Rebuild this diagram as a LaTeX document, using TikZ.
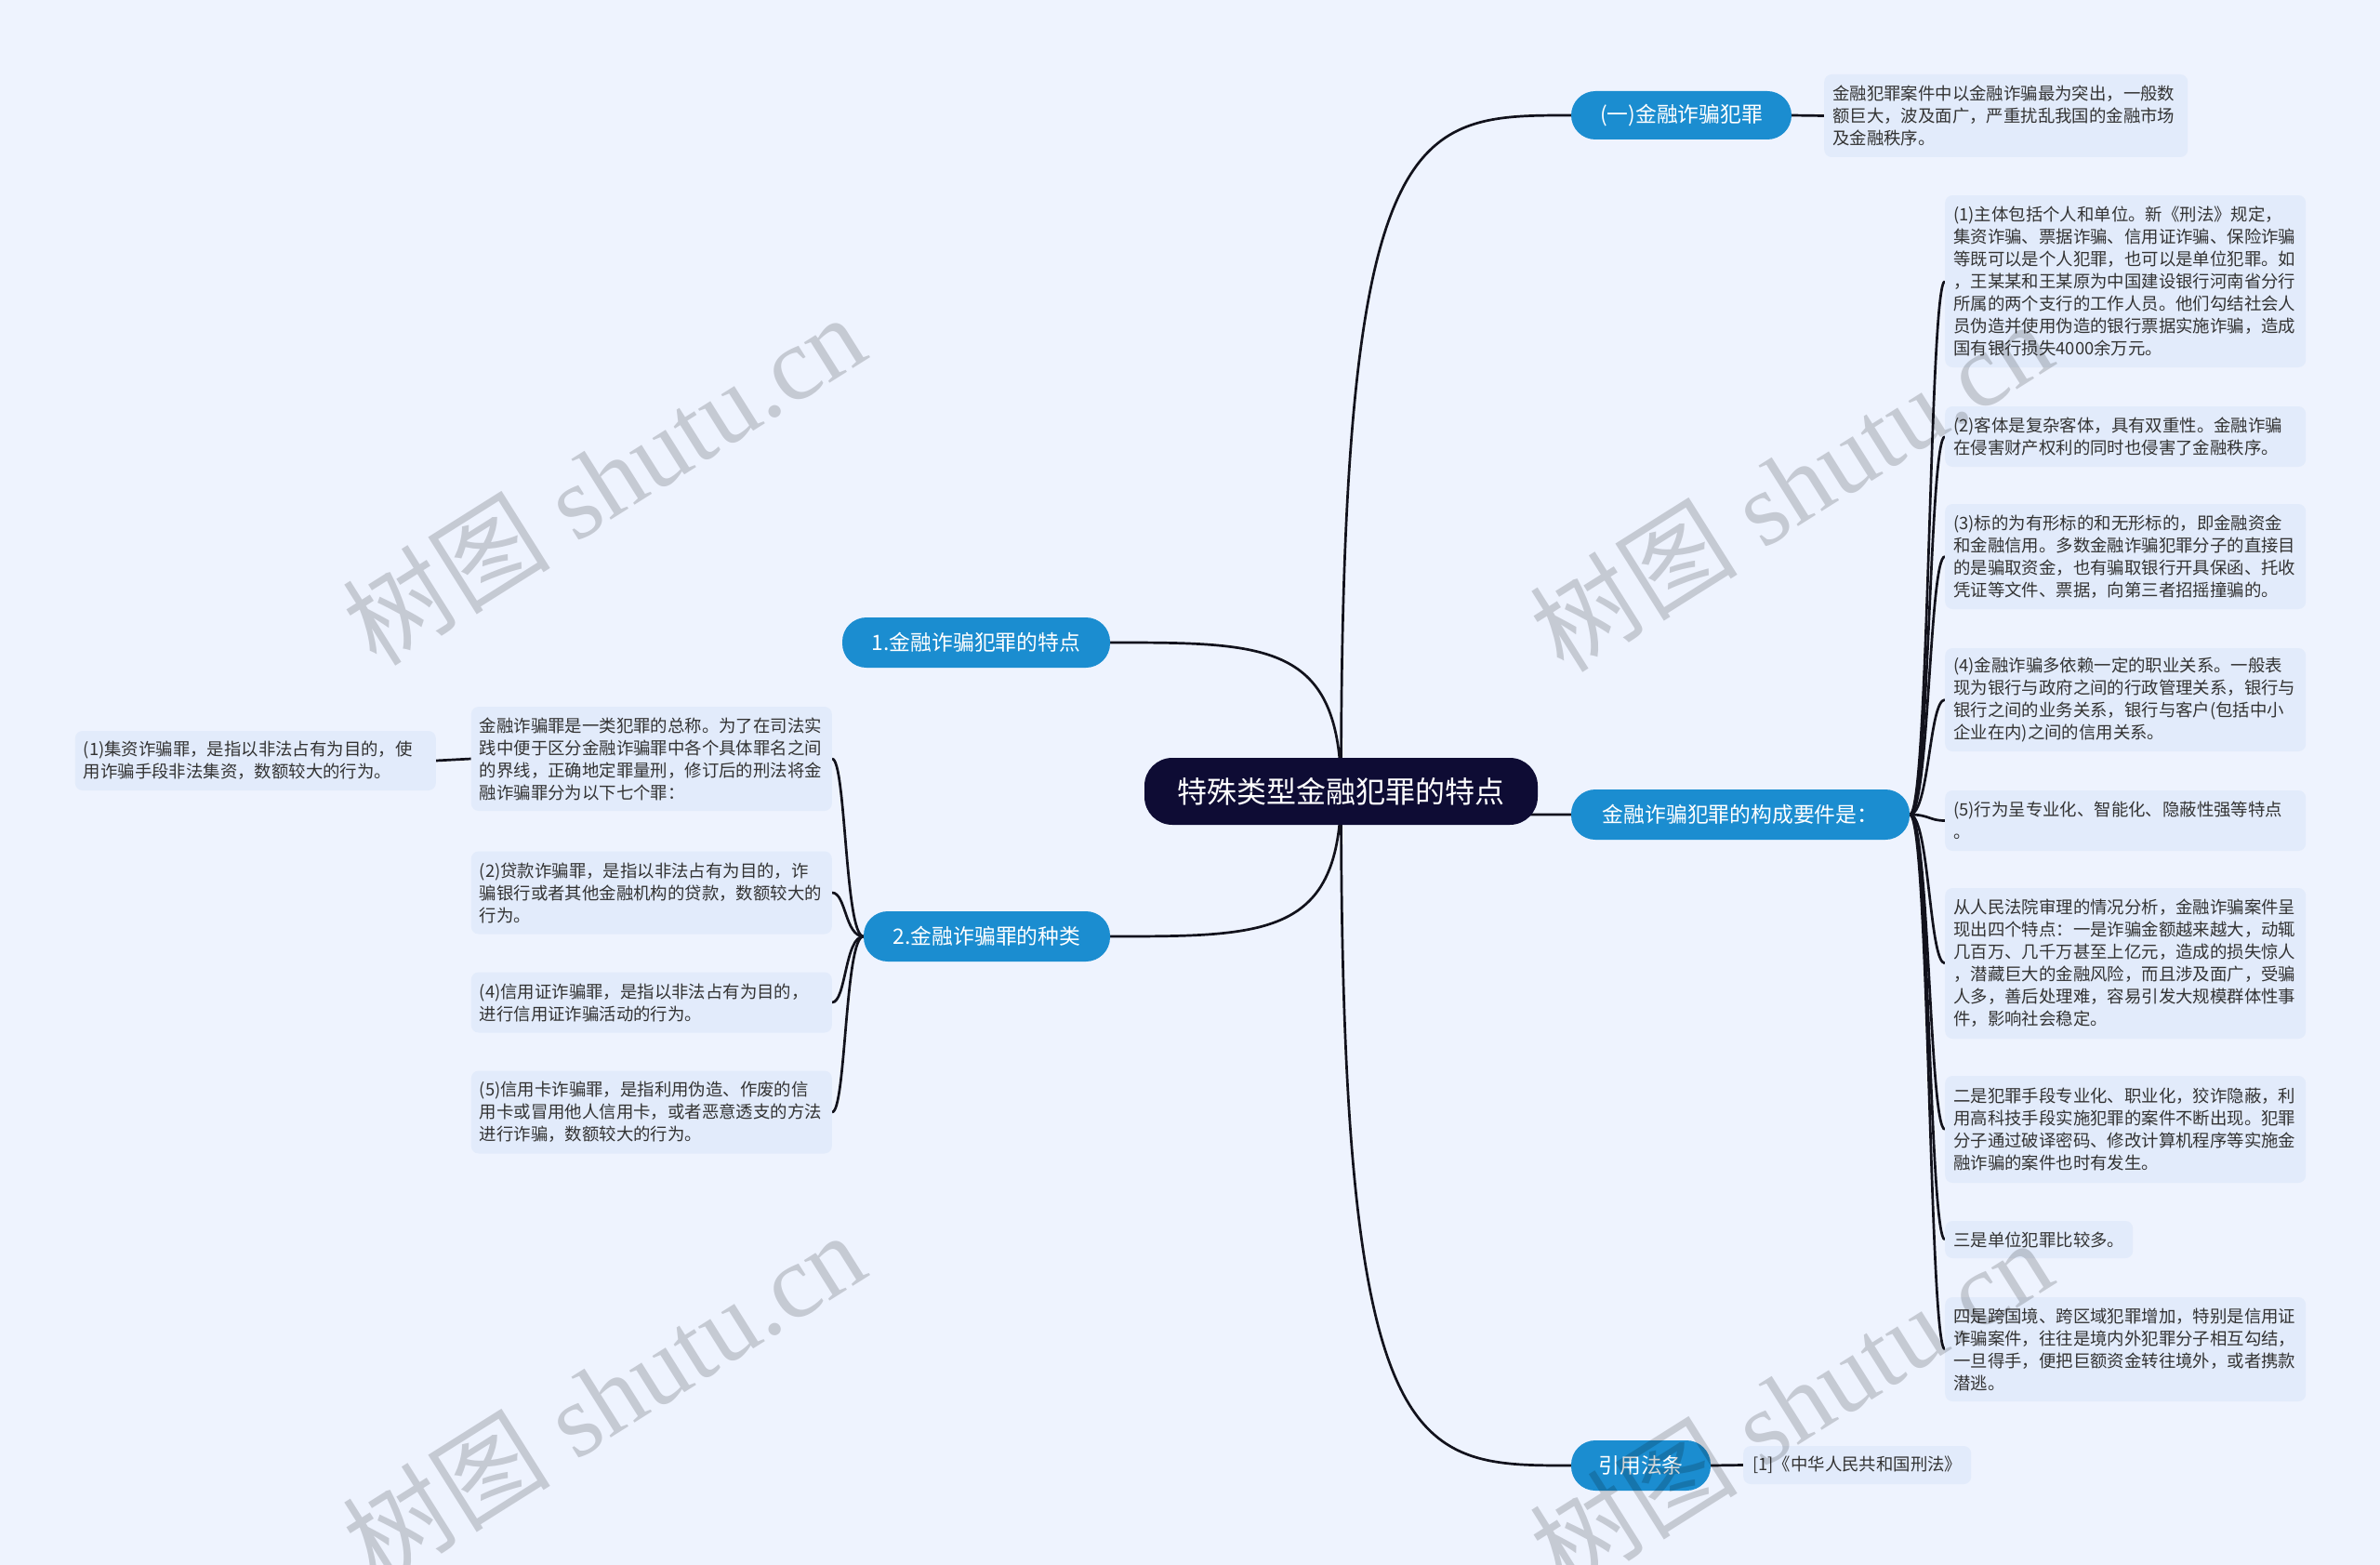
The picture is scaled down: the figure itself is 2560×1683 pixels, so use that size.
\documentclass[tikz,border=0pt]{standalone}
\usepackage{fontspec}
\setmainfont{Noto Sans CJK SC}
\newfontfamily\wmserif{Liberation Serif}
\newfontfamily\wmcjk{Noto Sans CJK SC}
\definecolor{bgc}{RGB}{238,243,254}
\definecolor{leafc}{RGB}{226,235,251}
\definecolor{lonec}{RGB}{27,141,208}
\definecolor{rootc}{RGB}{14,12,52}
\definecolor{txtc}{RGB}{51,51,51}
\definecolor{linec}{RGB}{18,18,28}
\pgfdeclarelayer{bgl}
\pgfsetlayers{bgl,main}
\begin{document}
\begin{tikzpicture}[x=1pt,y=-1pt,
  leaf/.style={rectangle, rounded corners=8pt, fill=leafc, text=txtc, align=left,
    text width=370pt, inner xsep=9pt, inner ysep=2pt, font=\fontsize{18.4}{24}\selectfont},
  leafnat/.style={rectangle, rounded corners=8pt, fill=leafc, text=txtc,
    inner xsep=9pt, inner ysep=2pt, font=\fontsize{18.4}{24}\selectfont},
  lone/.style={rectangle, rounded corners=26pt, fill=lonec, text=white,
    minimum height=54pt, inner xsep=0pt, font=\fontsize{22.8}{26}\selectfont},
  rootn/.style={rectangle, rounded corners=30pt, fill=rootc, text=white,
    minimum width=423pt, minimum height=72pt, font=\fontsize{32}{36}\selectfont},
  conn/.style={draw=linec, line width=2.7pt},
  wm/.style={rotate=32.2, text=black, opacity=0.17, inner sep=0pt}
]
\useasboundingbox (0,0) rectangle (2560,1683);

% root and first level
\node[rootn] (root) at (1442.5,851) {特殊类型金融犯罪的特点};
\node[lone, minimum width=237pt, minimum height=52pt] (n1) at (1808.5,124) {(一)金融诈骗犯罪};
\node[lone, minimum width=364pt] (n2) at (1872,876) {金融诈骗犯罪的构成要件是：};
\node[lone, minimum width=150pt] (n3) at (1765,1576) {引用法条};
\node[lone, minimum width=288pt] (n4) at (1050,691) {1.金融诈骗犯罪的特点};
\node[lone, minimum width=265pt] (n5) at (1061.5,1007) {2.金融诈骗罪的种类};

% right leaves
\node[leaf, minimum height=89pt, anchor=west, text width=373pt] (r0) at (1962,124.5) {金融犯罪案件中以金融诈骗最为突出，一般数\\额巨大，波及面广，严重扰乱我国的金融市场\\及金融秩序。};
\node[leaf, minimum height=185pt, anchor=west] (r1) at (2092,302.5) {(1)主体包括个人和单位。新《刑法》规定，\\集资诈骗、票据诈骗、信用证诈骗、保险诈骗\\等既可以是个人犯罪，也可以是单位犯罪。如\\，王某某和王某原为中国建设银行河南省分行\\所属的两个支行的工作人员。他们勾结社会人\\员伪造并使用伪造的银行票据实施诈骗，造成\\国有银行损失4000余万元。};
\node[leaf, minimum height=65pt, anchor=west] (r2) at (2092,469.5) {(2)客体是复杂客体，具有双重性。金融诈骗\\在侵害财产权利的同时也侵害了金融秩序。};
\node[leaf, minimum height=113pt, anchor=west] (r3) at (2092,598.5) {(3)标的为有形标的和无形标的，即金融资金\\和金融信用。多数金融诈骗犯罪分子的直接目\\的是骗取资金，也有骗取银行开具保函、托收\\凭证等文件、票据，向第三者招摇撞骗的。};
\node[leaf, minimum height=111pt, anchor=west] (r4) at (2092,752.5) {(4)金融诈骗多依赖一定的职业关系。一般表\\现为银行与政府之间的行政管理关系，银行与\\银行之间的业务关系，银行与客户(包括中小\\企业在内)之间的信用关系。};
\node[leaf, minimum height=65pt, anchor=west] (r5) at (2092,882.5) {(5)行为呈专业化、智能化、隐蔽性强等特点\\。};
\node[leaf, minimum height=162pt, anchor=west] (r6) at (2092,1036) {从人民法院审理的情况分析，金融诈骗案件呈\\现出四个特点：一是诈骗金额越来越大，动辄\\几百万、几千万甚至上亿元，造成的损失惊人\\，潜藏巨大的金融风险，而且涉及面广，受骗\\人多，善后处理难，容易引发大规模群体性事\\件，影响社会稳定。};
\node[leaf, minimum height=115pt, anchor=west] (r7) at (2092,1214.5) {二是犯罪手段专业化、职业化，狡诈隐蔽，利\\用高科技手段实施犯罪的案件不断出现。犯罪\\分子通过破译密码、修改计算机程序等实施金\\融诈骗的案件也时有发生。};
\node[leafnat, minimum height=40pt, minimum width=201pt, anchor=west, align=left] (r8) at (2092,1333) {三是单位犯罪比较多。};
\node[leaf, minimum height=112pt, anchor=west] (r9) at (2092,1451) {四是跨国境、跨区域犯罪增加，特别是信用证\\诈骗案件，往往是境内外犯罪分子相互勾结，\\一旦得手，便把巨额资金转往境外，或者携款\\潜逃。};
\node[leafnat, minimum height=41pt, minimum width=245pt, anchor=west] (r10) at (1875,1575.5) {[1]《中华人民共和国刑法》};

% left leaves
\node[leaf, minimum height=64pt, anchor=east] (l1) at (469,818) {(1)集资诈骗罪，是指以非法占有为目的，使\\用诈骗手段非法集资，数额较大的行为。};
\node[leaf, minimum height=112pt, anchor=east] (l0) at (895,816) {金融诈骗罪是一类犯罪的总称。为了在司法实\\践中便于区分金融诈骗罪中各个具体罪名之间\\的界线，正确地定罪量刑，修订后的刑法将金\\融诈骗罪分为以下七个罪：};
\node[leaf, minimum height=89pt, anchor=east] (l2) at (895,960) {(2)贷款诈骗罪，是指以非法占有为目的，诈\\骗银行或者其他金融机构的贷款，数额较大的\\行为。};
\node[leaf, minimum height=65pt, anchor=east] (l4) at (895,1078) {(4)信用证诈骗罪，是指以非法占有为目的，\\进行信用证诈骗活动的行为。};
\node[leaf, minimum height=89pt, anchor=east] (l5) at (895,1196) {(5)信用卡诈骗罪，是指利用伪造、作废的信\\用卡或冒用他人信用卡，或者恶意透支的方法\\进行诈骗，数额较大的行为。};

\begin{pgfonlayer}{bgl}
  \fill[bgc] (0,0) rectangle (2560,1683);
  % root connectors
  \draw[conn] (root.center) .. controls (1442,124) and (1521,124) .. (n1.west);
  \draw[conn] (root.center) .. controls (1442,876) and (1521,876) .. (n2.west);
  \draw[conn] (root.center) .. controls (1442,1576) and (1521,1576) .. (n3.west);
  \draw[conn] (root.center) .. controls (1442,691) and (1363,691) .. (n4.east);
  \draw[conn] (root.center) .. controls (1442,1007) and (1363,1007) .. (n5.east);
  % straight links
  \draw[conn] (n1.east) -- (r0.west);
  \draw[conn] (n3.east) -- (r10.west);
  \draw[conn] (l0.west) -- (l1.east);
  % right bracket
  \foreach \t in {r1,r2,r3,r4,r5,r6,r7,r8,r9}
    \draw[conn] (n2.east) .. controls +(21,0) and +(-17,0) .. (\t.west);
  % left bracket
  \foreach \t in {l0,l2,l4,l5}
    \draw[conn] (n5.west) .. controls +(-20,0) and +(15,0) .. (\t.east);
\end{pgfonlayer}

% watermarks
\foreach \p in {(649,515),(1926,522),(649,1502),(1926,1510)}
  \node[wm] at \p {\fontsize{112}{112}\selectfont\wmcjk 树图\wmserif{} shutu.cn};
\end{tikzpicture}
\end{document}
